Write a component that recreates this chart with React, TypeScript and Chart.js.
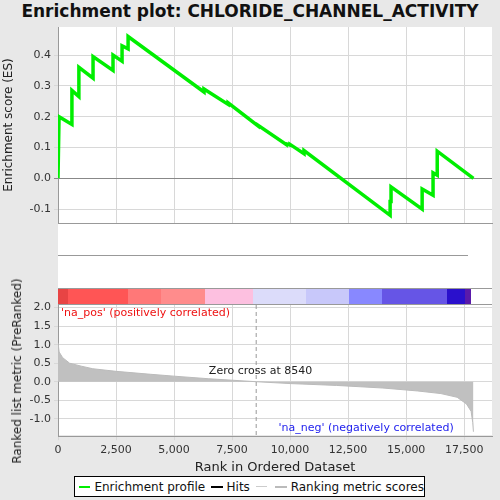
import { useRef, useEffect } from 'react';
import Chart from 'chart.js/auto';

const hitRanks = [45, 600, 900, 1510, 2370, 2760, 3020, 6290, 7330, 8620, 9830, 10000, 10600, 14310, 14350, 15690, 16160, 16340];
const esRanks = [0, 0, 45, 600, 600, 900, 900, 1510, 1510, 2370, 2370, 2760, 2760, 3020, 3020, 6290, 6290, 7330, 7330, 8620, 8620, 9830, 9830, 10000, 10000, 10600, 10600, 14310, 14310, 14350, 14350, 15690, 15690, 16160, 16160, 16340, 16340, 17900];
const esValues = [0, 0, 0.2, 0.175, 0.285, 0.265, 0.36, 0.325, 0.395, 0.35, 0.4, 0.38, 0.43, 0.42, 0.46, 0.28, 0.29, 0.24, 0.245, 0.17, 0.172, 0.11, 0.112, 0.108, 0.11, 0.08, 0.09, -0.12, -0.075, -0.075, -0.028, -0.1, -0.035, -0.055, 0.018, 0.01, 0.088, 0];
const metricRanks = [0, 50, 200, 500, 1000, 1500, 2500, 4000, 5000, 6500, 8540, 10000, 12000, 14000, 15500, 16500, 17200, 17600, 17800, 17870, 17900];
const metricValues = [1.05, 0.8, 0.65, 0.5, 0.42, 0.35, 0.28, 0.2, 0.15, 0.08, 0, -0.05, -0.1, -0.17, -0.25, -0.32, -0.42, -0.6, -0.8, -1.1, -1.35];
const xTicks = [0, 2500, 5000, 7500, 10000, 12500, 15000, 17500];
const zeroCross = 8540;
const X_MAX = 18700;

const FONT = 'DejaVu Sans';
const PAD = 12;
const grid = { color: '#d8d8d8', tickLength: 4 };
const fitY = (s: any) => { s.width = 58; };

const xAxis = (showTicks: boolean) => ({
  type: 'linear' as const,
  min: 0,
  max: X_MAX,
  afterBuildTicks: (s: any) => { s.ticks = xTicks.map((v) => ({ value: v })); },
  grid: { ...grid, drawTicks: showTicks },
  border: { color: '#999' },
  ticks: {
    display: showTicks,
    color: '#333',
    font: { family: FONT, size: 11 },
    maxRotation: 0,
    callback: (v: any) => Number(v).toLocaleString('en-US'),
  },
  title: { display: showTicks, text: 'Rank in Ordered Dataset', color: '#222', font: { family: FONT, size: 13 }, padding: 0 },
});

const bottomText = {
  id: 'bottomText',
  afterDatasetsDraw(chart: any) {
    const { ctx, scales, chartArea } = chart;
    const x0 = scales.x.getPixelForValue(zeroCross);
    ctx.save();
    ctx.strokeStyle = '#999';
    ctx.setLineDash([4, 3]);
    ctx.beginPath();
    ctx.moveTo(x0, chartArea.top);
    ctx.lineTo(x0, chartArea.bottom);
    ctx.stroke();
    ctx.setLineDash([]);
    ctx.font = `11px ${FONT}`;
    ctx.textBaseline = 'middle';
    ctx.fillStyle = '#ee1111';
    ctx.fillText("'na_pos' (positively correlated)", chartArea.left + 3, scales.y.getPixelForValue(1.85));
    ctx.fillStyle = '#222';
    ctx.fillText('Zero cross at ' + zeroCross, scales.x.getPixelForValue(6500), scales.y.getPixelForValue(0.28));
    ctx.fillStyle = '#2222ee';
    ctx.fillText("'na_neg' (negatively correlated)", scales.x.getPixelForValue(9500), scales.y.getPixelForValue(-1.25));
    ctx.restore();
  },
};

const App = () => {
  const esRef = useRef<HTMLCanvasElement | null>(null);
  const hitRef = useRef<HTMLCanvasElement | null>(null);
  const metRef = useRef<HTMLCanvasElement | null>(null);

  useEffect(() => {
    if (!esRef.current || !hitRef.current || !metRef.current) return;
    Chart.defaults.font.family = FONT;

    const es = new Chart(esRef.current, {
      type: 'line',
      data: {
        datasets: [{
          data: esRanks.map((r, i) => ({ x: r, y: esValues[i] })),
          borderColor: '#00ee00',
          borderWidth: 3.5,
          pointRadius: 0,
        }],
      },
      options: {
        responsive: false,
        animation: false,
        layout: { padding: { right: 8, top: PAD, bottom: PAD } },
        plugins: { legend: { display: false }, tooltip: { enabled: false } },
        scales: {
          x: xAxis(false),
          y: {
            min: -0.145,
            max: 0.491,
            afterFit: fitY,
            afterBuildTicks: (s: any) => { s.ticks = [-0.1, 0, 0.1, 0.2, 0.3, 0.4].map((v) => ({ value: v })); },
            grid: { ...grid, color: (c: any) => (c.tick && c.tick.value === 0 ? '#888' : '#d8d8d8') },
            border: { color: '#999' },
            ticks: { color: '#333', font: { size: 11 }, callback: (v: any) => Number(v).toFixed(1) },
            title: { display: true, text: 'Enrichment score (ES)', color: '#222', font: { size: 12 }, padding: 2 },
          },
        },
      },
    });

    const hits = new Chart(hitRef.current, {
      type: 'scatter',
      data: {
        datasets: [{
          data: hitRanks.map((r) => ({ x: r, y: 0.5 })),
          pointStyle: 'line',
          rotation: 90,
          pointRadius: 31.5,
          borderColor: '#000',
          borderWidth: 1.5,
        }],
      },
      options: {
        responsive: false,
        animation: false,
        layout: { padding: { right: 8 } },
        plugins: { legend: { display: false }, tooltip: { enabled: false } },
        scales: {
          x: { ...xAxis(false), grid: { display: false } },
          y: { min: 0, max: 1, afterFit: fitY, ticks: { display: false }, grid: { display: false }, border: { color: '#999' } },
        },
      },
    });

    const met = new Chart(metRef.current, {
      type: 'line',
      data: {
        datasets: [{
          data: metricRanks.map((r, i) => ({ x: r, y: metricValues[i] })),
          borderColor: '#bbbbbb',
          backgroundColor: '#c0c0c0',
          borderWidth: 1,
          pointRadius: 0,
          fill: 'origin',
        }],
      },
      options: {
        responsive: false,
        animation: false,
        layout: { padding: { right: 8, top: PAD } },
        plugins: { legend: { display: false }, tooltip: { enabled: false } },
        scales: {
          x: xAxis(true),
          y: {
            min: -1.47,
            max: 2.07,
            afterFit: fitY,
            afterBuildTicks: (s: any) => { s.ticks = [-1, -0.5, 0, 0.5, 1, 1.5, 2].map((v) => ({ value: v })); },
            grid,
            border: { color: '#999' },
            ticks: { color: '#333', font: { size: 11 }, callback: (v: any) => Number(v).toFixed(1) },
          },
        },
      },
      plugins: [bottomText],
    });

    return () => { es.destroy(); hits.destroy(); met.destroy(); };
  }, []);

  const band = 'linear-gradient(to right, #e84444 0px, #e84444 10px, #ff5555 10px, #ff5555 70px, #ff7878 70px, #ff7878 103px, #ff8c8c 103px, #ff8c8c 147px, #fdc0e0 147px, #fdc0e0 195px, #dcdcfa 195px, #dcdcfa 248px, #c8c8fa 248px, #c8c8fa 291px, #8888ff 291px, #8888ff 324px, #6655e6 324px, #6655e6 389px, #2a10cc 389px, #2a10cc 407px, #5a1aaa 407px, #5a1aaa 413px, #fff 413px)';

  return (
    <div style={{ position: 'absolute', left: 0, top: 0, width: 500, height: 500, background: '#e8e8e8', fontFamily: FONT }}>
      <div style={{ position: 'absolute', top: 1, width: 500, textAlign: 'center', fontWeight: 'bold', fontSize: 17, color: '#111' }}>
        Enrichment plot: CHLORIDE_CHANNEL_ACTIVITY
      </div>
      <div style={{ position: 'absolute', left: 58, top: 27, width: 434, height: 408, background: '#fff' }} />
      <canvas ref={esRef} width={500} height={196 + 2 * PAD} style={{ position: 'absolute', left: 0, top: 27 - PAD }} />
      <canvas ref={hitRef} width={500} height={66} style={{ position: 'absolute', left: 0, top: 222 }} />
      <div style={{ position: 'absolute', left: 58, top: 288, width: 434, height: 17, background: band, borderTop: '1px solid #999', borderBottom: '1px solid #999', boxSizing: 'border-box' }} />
      <canvas ref={metRef} width={500} height={170 + PAD} style={{ position: 'absolute', left: 0, top: 305 - PAD }} />
      <div style={{ position: 'absolute', left: 17, top: 371, transform: 'translate(-50%, -50%) rotate(-90deg)', fontSize: 12, color: '#222', whiteSpace: 'nowrap' }}>
        Ranked list metric (PreRanked)
      </div>
      <div style={{ position: 'absolute', left: 74, top: 476, width: 351, height: 21, background: '#fff', border: '1px solid #000', boxSizing: 'border-box', display: 'flex', alignItems: 'center', fontSize: 12, color: '#111', whiteSpace: 'nowrap' }}>
        <span style={{ display: 'inline-block', width: 16, height: 2, background: '#00ee00', margin: '0 4px 0 4px' }} />Enrichment profile
        <span style={{ display: 'inline-block', width: 16, height: 2, background: '#000', margin: '0 4px 0 6px' }} />Hits
        <span style={{ display: 'inline-block', width: 16, height: 1, background: '#ccc', margin: '0 4px 0 6px' }} />
        <span style={{ display: 'inline-block', width: 16, height: 2, background: '#bbb', margin: '0 4px 0 4px' }} />Ranking metric scores
      </div>
    </div>
  );
};

export default App;
